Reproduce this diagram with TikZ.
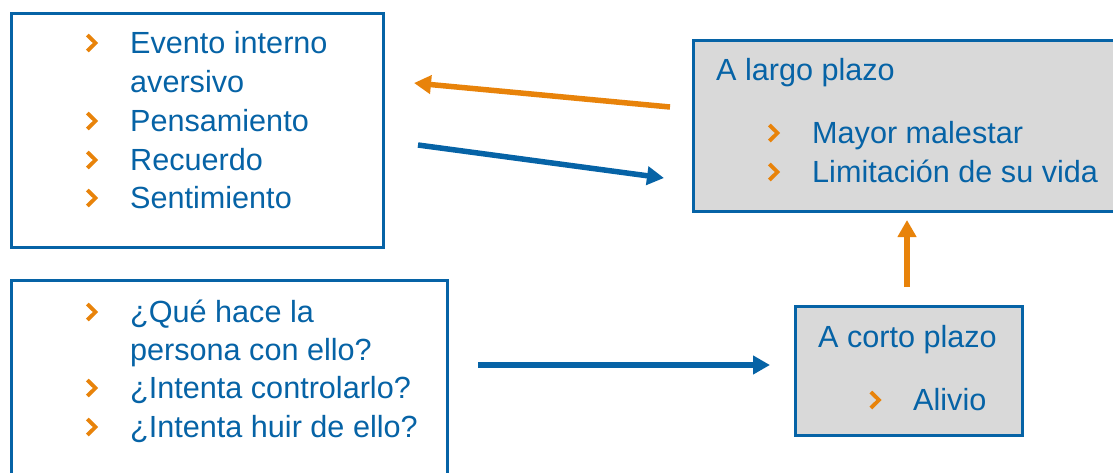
\documentclass[tikz,border=0pt]{standalone}
\usepackage{fontspec}
\setmainfont{Liberation Sans}
\usetikzlibrary{arrows.meta}
\definecolor{cblue}{RGB}{6,99,166}
\definecolor{corange}{RGB}{232,131,10}
\definecolor{cgray}{RGB}{217,217,217}
\begin{document}
\begin{tikzpicture}[x=1pt,y=-1pt,
  box/.style={draw=cblue,line width=3pt,inner sep=0pt,outer sep=0pt},
  txt/.style={anchor=base west,inner sep=0pt,text=cblue,font=\fontsize{30.6}{36}\selectfont},
  chev/.pic={\draw[corange,line width=3.8pt,line join=miter] (-4.2,-8) -- (4,0) -- (-4.2,8);},
  arr/.style={line width=5.5pt,-{Triangle[length=17pt,width=18pt]}}]
\useasboundingbox (0,0) rectangle (1113,472);
\clip (0,0) rectangle (1113,472);
% boxes
\node[box,fill=white,minimum width=372pt,minimum height=234pt,anchor=north west] (b1) at (11,13) {};
\node[box,fill=cgray,minimum width=440pt,minimum height=171pt,anchor=north west] (b2) at (693,40) {};
\node[box,fill=white,minimum width=436pt,minimum height=220pt,anchor=north west] (b3) at (11,280) {};
\node[box,fill=cgray,minimum width=227pt,minimum height=129pt,anchor=north west] (b4) at (795,306) {};
% box 1 text
\node[txt] (t11) at (130,53) {Evento interno};
\node[txt] (t12) at (130,92) {aversivo};
\node[txt] (t13) at (130,131) {Pensamiento};
\node[txt] (t14) at (130,170) {Recuerdo};
\node[txt] (t15) at (130,208) {Sentimiento};
\pic at (91.5,43) {chev};
\pic at (91.5,121) {chev};
\pic at (91.5,160) {chev};
\pic at (91.5,198) {chev};
% box 2 text
\node[txt] (t21) at (716,80) {A largo plazo};
\node[txt] (t22) at (812,143) {Mayor malestar};
\node[txt] (t23) at (812,182) {Limitación de su vida};
\pic at (773.5,133) {chev};
\pic at (773.5,172) {chev};
% box 3 text
\node[txt] (t31) at (130,322) {¿Qué hace la};
\node[txt] (t32) at (130,360) {persona con ello?};
\node[txt] (t33) at (130,398) {¿Intenta controlarlo?};
\node[txt] (t34) at (130,437) {¿Intenta huir de ello?};
\pic at (91.5,312) {chev};
\pic at (91.5,388) {chev};
\pic at (91.5,427) {chev};
% box 4 text
\node[txt] (t41) at (818,347) {A corto plazo};
\node[txt] (t42) at (913,410) {Alivio};
\pic at (875,400) {chev};
% arrow endpoints
\coordinate (o1s) at (670,107);
\coordinate (o1e) at (414,83);
\coordinate (b1s) at (418,145);
\coordinate (b1e) at (664,178);
\coordinate (b2s) at (478,365);
\coordinate (b2e) at (770,365);
\coordinate (o2s) at (907,287);
\coordinate (o2e) at (907,220);
\draw[arr,corange] (o1s) -- (o1e);
\draw[arr,cblue] (b1s) -- (b1e);
\draw[arr,cblue] (b2s) -- (b2e);
\draw[arr,corange] (o2s) -- (o2e);
\end{tikzpicture}
\end{document}
